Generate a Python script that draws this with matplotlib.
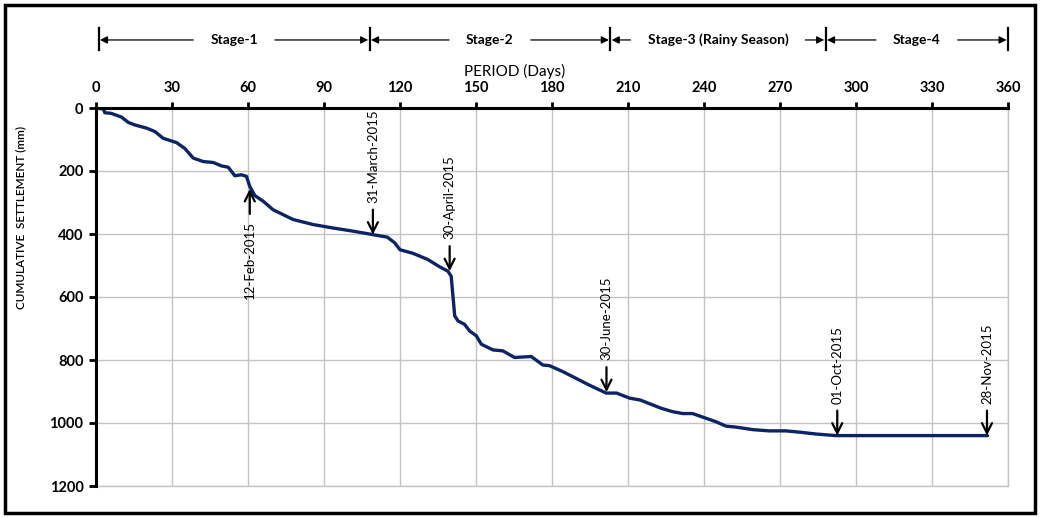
import matplotlib

matplotlib.use("Agg")
import matplotlib.pyplot as plt
from matplotlib.patches import Rectangle

plt.rcParams["font.family"] = ["Lato", "DejaVu Sans"]

# Cumulative settlement curve (day, mm)
DAYS = [0, 2.9, 3.5, 6, 10.1, 12.8, 15.4, 20, 23.3, 26.5, 31.8, 35, 38.4, 42.3,
        46.3, 49.6, 52.2, 54.8, 57.4, 59.4, 60.7, 62.7, 66, 69.9, 77.8, 85.7,
        93.6, 101.5, 109.3, 115, 117.9, 120, 125, 131, 135.6, 138.9, 140.2,
        140.9, 141.6, 142.9, 145.5, 147.5, 150.1, 152.1, 156.7, 160.6, 165.2,
        171.8, 176.4, 179, 184.3, 194.8, 201.4, 205.5, 210.6, 214.8, 223,
        227.6, 231.6, 235.5, 240.8, 244.7, 248.7, 252.6, 259.2, 265.7, 272.3,
        277.6, 284.2, 292.1, 351.9]
SETTLEMENT = [0, 3, 15, 17, 29, 46, 54, 64, 75, 96, 110, 128, 159, 170,
              173, 184, 188, 215, 212, 217, 249, 278, 296, 323, 354, 370,
              381, 391, 402, 410, 428, 450, 461, 481, 504, 518, 534,
              597, 660, 676, 687, 708, 723, 750, 768, 771, 792,
              789, 816, 818, 837, 880, 905, 905, 921, 927, 953,
              964, 970, 970, 985, 996, 1010, 1013, 1021, 1025, 1025,
              1029, 1035, 1040, 1040]

# Date markers on the curve
MARK_LABELS = ["12-Feb-2015", "31-March-2015", "30-April-2015",
               "30-June-2015", "01-Oct-2015", "28-Nov-2015"]
MARK_DAYS = [60.7, 109.3, 139.6, 201.5, 292.6, 351.7]
MARK_VALUES = [257, 402, 518, 902, 1040, 1040]
MARK_UP = [True, False, False, False, False, False]

# Construction stages along the top
STAGE_LABELS = ["Stage-1", "Stage-2", "Stage-3 (Rainy Season)", "Stage-4"]
STAGE_BOUNDS = [1, 108, 203, 288, 360]

X_TICKS = list(range(0, 361, 30))
Y_TICKS = list(range(0, 1201, 200))

LINE_COLOR = "#0c2466"
GRID_COLOR = "#c3c3c3"


def main():
    fig = plt.figure(figsize=(10.4, 5.18), dpi=100)
    ax = fig.add_axes([96 / 1040, 1 - 486 / 518, 912 / 1040, 378 / 518])

    ax.plot(DAYS, SETTLEMENT, color=LINE_COLOR, lw=2.4,
            solid_joinstyle="round", solid_capstyle="round", zorder=3)

    ax.set_xlim(0, 360)
    ax.set_ylim(1200, 0)
    ax.set_xticks(X_TICKS)
    ax.set_yticks(Y_TICKS)
    ax.xaxis.tick_top()
    ax.xaxis.set_label_position("top")
    ax.grid(True, color=GRID_COLOR, lw=1, zorder=0)
    ax.tick_params(axis="x", direction="out", length=4, width=2, pad=5,
                   labelsize=10.5, color="black")
    ax.tick_params(axis="y", direction="out", length=5, width=2, pad=4,
                   labelsize=10.5, color="black")
    for lab in ax.get_xticklabels() + ax.get_yticklabels():
        lab.set_fontweight("bold")

    for side in ("top", "left"):
        ax.spines[side].set_linewidth(2.2)
        ax.spines[side].set_color("black")
        ax.spines[side].set_zorder(4)
    for side in ("right", "bottom"):
        ax.spines[side].set_linewidth(1)
        ax.spines[side].set_color(GRID_COLOR)

    ax.set_xlabel("PERIOD (Days)", fontsize=11, labelpad=4)
    ax.xaxis.set_label_coords(0.459, 1.085)
    ax.set_ylabel("CUMULATIVE  SETTLEMENT (mm)", fontsize=8.5,
                  fontweight="semibold")
    ax.yaxis.set_label_coords(-0.076, 0.71)

    # date markers: short arrow + rotated label
    for lab, d, v, up in zip(MARK_LABELS, MARK_DAYS, MARK_VALUES, MARK_UP):
        sgn = -1 if up else 1
        ax.annotate("", xy=(d, v), xytext=(0, sgn * 18),
                    textcoords="offset points",
                    arrowprops=dict(arrowstyle="->", lw=1.6, color="black",
                                    mutation_scale=18, shrinkA=0, shrinkB=0),
                    zorder=5)
        ax.annotate(lab, xy=(d, v), xytext=(0, sgn * 23),
                    textcoords="offset points", rotation=90,
                    ha="center", va="top" if up else "bottom",
                    fontsize=9.5, zorder=5)

    # stage row above the axis
    trans = ax.get_xaxis_transform()
    y_row = 1.18
    fig.canvas.draw()
    renderer = fig.canvas.get_renderer()
    inv = ax.transData.inverted()
    gap = 17
    for b in STAGE_BOUNDS:
        ax.plot([b, b], [1.153, 1.212], transform=trans, color="black",
                lw=1.6, clip_on=False)
    for i, lab in enumerate(STAGE_LABELS):
        a, b = STAGE_BOUNDS[i], STAGE_BOUNDS[i + 1]
        mid = (a + b) / 2
        t = ax.text(mid, y_row, lab, transform=trans, ha="center",
                    va="center", fontsize=10, fontweight="bold")
        bb = t.get_window_extent(renderer)
        left = inv.transform((bb.x0 - gap, 0))[0]
        right = inv.transform((bb.x1 + gap, 0))[0]
        for start, end in ((left, a), (right, b)):
            ax.annotate("", xy=(end, y_row), xytext=(start, y_row),
                        xycoords=trans, textcoords=trans,
                        arrowprops=dict(arrowstyle="-|>", lw=0.9,
                                        color="black", mutation_scale=11,
                                        shrinkA=0, shrinkB=1),
                        annotation_clip=False)

    fig.patches.append(Rectangle((5 / 1040, 1 - 513 / 518), 1030 / 1040,
                                 508 / 518, transform=fig.transFigure,
                                 fill=False, lw=2.5, edgecolor="black"))

    fig.savefig("out.png", dpi=100)
    plt.close(fig)


if __name__ == "__main__":
    main()
